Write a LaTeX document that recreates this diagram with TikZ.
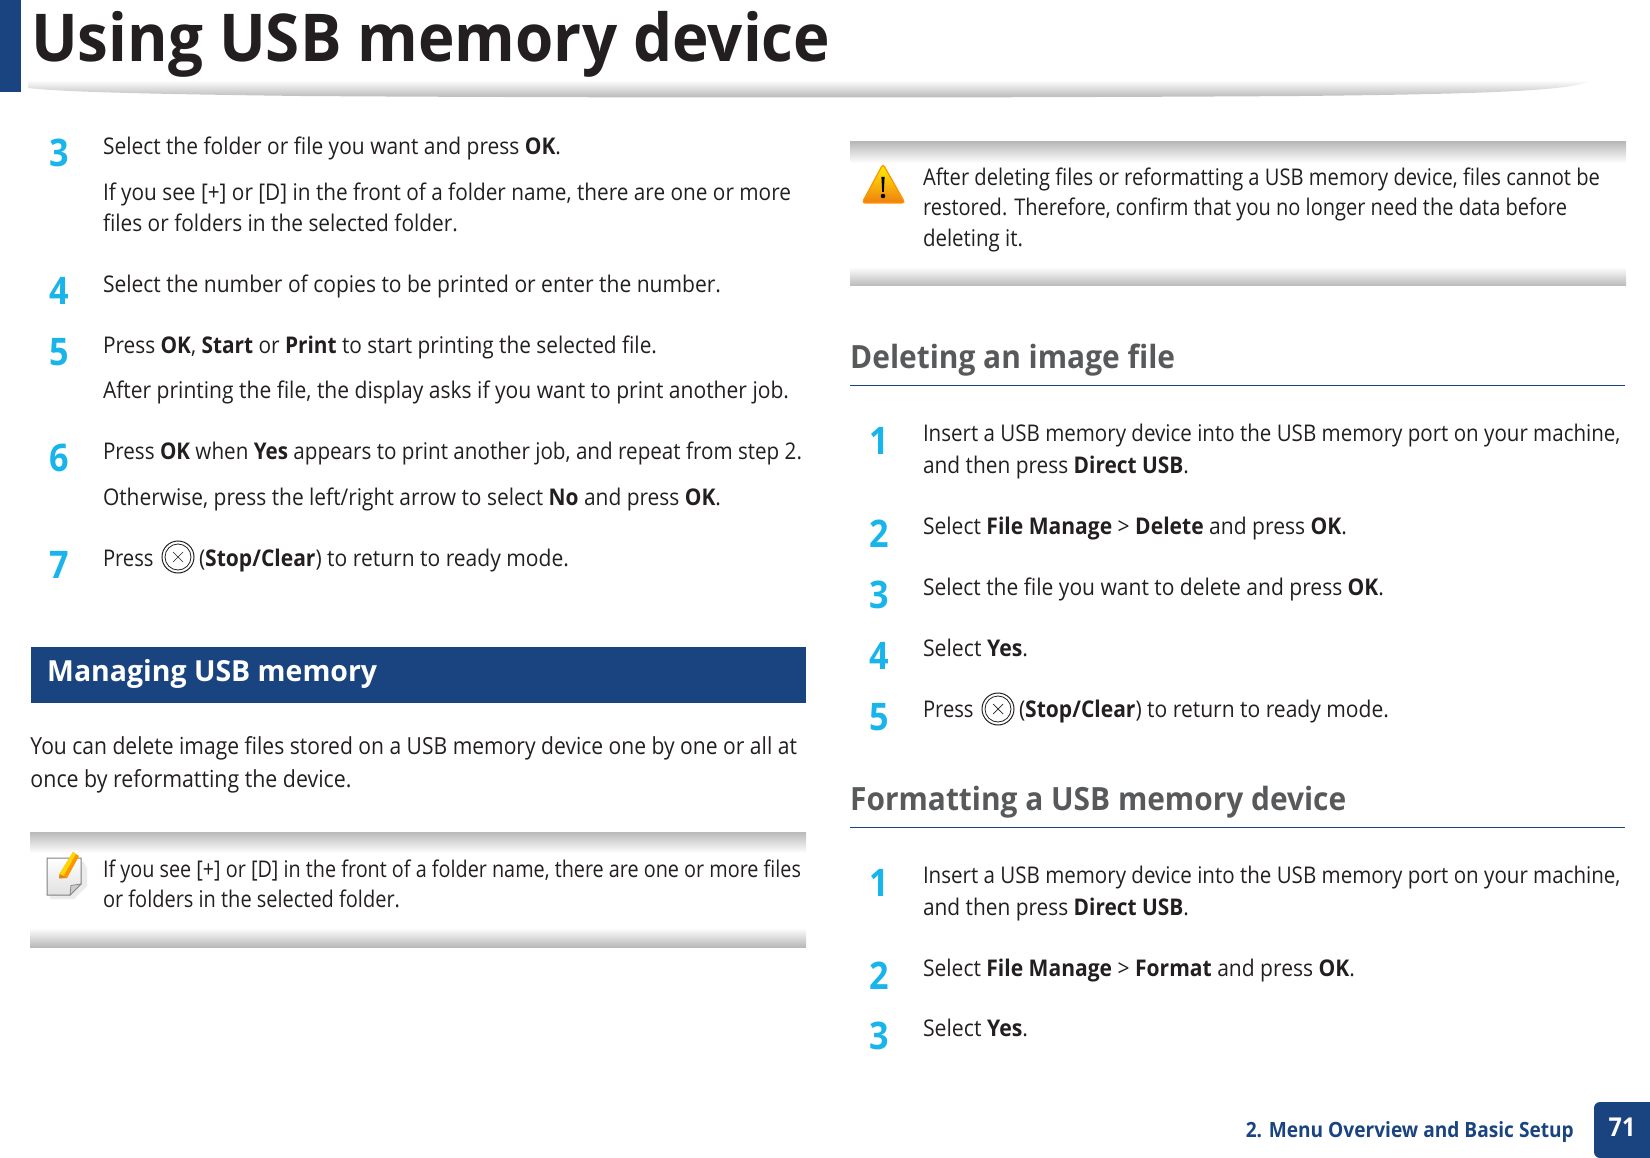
\documentclass[tikz,border=0pt]{standalone}
\usepackage{graphicx}
\usepackage{fontspec}
\setmainfont{Open Sans}[FakeStretch=0.9]
\usetikzlibrary{calc}
\definecolor{navy}{HTML}{1A4480}
\definecolor{ink}{HTML}{231F20}
\definecolor{cyanstep}{HTML}{18B4EA}
\definecolor{headgray}{HTML}{58595B}
\definecolor{bandgray}{HTML}{B9B9B9}
\newsavebox{\fitbox}
\newcommand{\fit}[2]{\sbox{\fitbox}{#2}\pgfmathsetmacro{\fitr}{(#1)/\the\wd\fitbox}\scalebox{\fitr}[1]{\usebox{\fitbox}}}
\tikzset{
  x=1pt,y=-1pt,
  txt/.style={anchor=base west,inner sep=0pt,outer sep=0pt,text=ink,font=\fontsize{23}{28}\selectfont},
  para/.style={txt,font=\fontsize{23.5}{28}\selectfont},
  stepnum/.style={anchor=base,inner sep=0pt,text=cyanstep,font=\fontsize{38}{40}\selectfont\bfseries},
  headtxt/.style={anchor=base west,inner sep=0pt,text=headgray,font=\fontsize{32}{36}\selectfont\bfseries},
  rulel/.style={navy,line width=1pt},
}
% name, x, baseline, right end, text
\newcommand{\tl}[5]{\node[txt] (#1) at (#2,#3) {\fit{#4-#2}{#5}};}
\newcommand{\sn}[4]{\node[stepnum] (#1) at (#2,#3) {#4};}
\newcommand{\stopicon}[3]{%
  \node[circle,draw=ink,line width=1pt,minimum size=32pt,inner sep=0pt] (#1) at (#2,#3) {};
  \node[circle,draw=ink,line width=.8pt,minimum size=26pt,inner sep=0pt] at (#2,#3) {};
  \draw[ink,line width=.7pt] ($(#2,#3)+(-5,-5)$) -- ($(#2,#3)+(5,5)$) ($(#2,#3)+(-5,5)$) -- ($(#2,#3)+(5,-5)$);}
\newcommand{\bandtop}[3]{\shade[top color=bandgray,bottom color=white] (#1,#2) rectangle (#3,#2+21);}
\newcommand{\bandbot}[3]{\shade[top color=white,bottom color=bandgray] (#1,#2) rectangle (#3,#2+19);}
\begin{document}
\begin{tikzpicture}
\useasboundingbox (0,0) rectangle (1650,1158);
% header
\fill[navy] (0,0) rectangle (21,92);
\shade[top color=white,middle color=black!6,bottom color=black!28] (28,80) -- (1590,80) .. controls (1580,90) and (1500,94) .. (1300,96) .. controls (1000,98) and (600,98) .. (300,96) .. controls (150,94) and (60,92) .. (28,88) -- cycle;
\node[anchor=base west,inner sep=0pt,text=ink,font=\fontsize{66}{68}\selectfont\bfseries] (title) at (31,62) {\fit{799}{Using USB memory device}};
% left column
\sn{n3}{59}{167}{3}
\tl{a1}{103}{155}{561}{Select the folder or file you want and press \textbf{OK}.}
\tl{a2}{103}{201}{791}{If you see [+] or [D] in the front of a folder name, there are one or more}
\tl{a3}{103}{232}{458}{files or folders in the selected folder.}
\sn{n4}{59}{305}{4}
\tl{a4}{103}{293}{721}{Select the number of copies to be printed or enter the number.}
\sn{n5}{59}{366}{5}
\tl{a5}{103}{354}{657}{Press \textbf{OK}, \textbf{Start} or \textbf{Print} to start printing the selected file.}
\tl{a6}{103}{399}{789}{After printing the file, the display asks if you want to print another job.}
\sn{n6}{59}{471}{6}
\tl{a7}{103}{459}{802}{Press \textbf{OK} when \textbf{Yes} appears to print another job, and repeat from step 2.}
\tl{a8}{103}{505}{721}{Otherwise, press the left/right arrow to select \textbf{No} and press \textbf{OK}.}
\sn{n7}{59}{578}{7}
\tl{a9}{103}{566}{153.6}{Press}
\stopicon{s1}{178}{557}
\tl{a10}{199}{566}{569}{(\textbf{Stop/Clear}) to return to ready mode.}
% section bar
\fill[navy] (30.5,647) rectangle (806,703);
\node[anchor=base west,inner sep=0pt,text=white,font=\fontsize{29}{32}\selectfont\bfseries] (sec) at (47,681) {\fit{330}{Managing USB memory}};
\node[para] (p1) at (30.5,754) {\fit{766.5}{You can delete image files stored on a USB memory device one by one or all at}};
\node[para] (p2) at (30.5,787) {\fit{321}{once by reformatting the device.}};
% note box
\bandtop{30}{832}{806}
\bandbot{30}{928}{806}
\begin{scope}
  \fill[black!8] (84,862) -- (87,868) -- (87,886) -- (74,899) -- (50,899) -- (50,890) -- (78,862) -- cycle;
  \shade[draw=black!50,line width=1pt,top color=white,bottom color=black!12] (47,858) -- (81,858) -- (81,884) -- (70,895) -- (47,895) -- cycle;
  \fill[black!20,draw=black!50,line width=.7pt] (81,884) -- (71,885.5) -- (70,895) -- cycle;
  \fill[orange!85!yellow] (73,852) -- (79,856) -- (67,878) -- (59.5,874) -- cycle;
  \fill[yellow!75!orange] (73,852) -- (76,854) -- (63.5,876) -- (59.5,874) -- cycle;
  \fill[orange!60!brown] (59.5,874) -- (67,878) -- (59,878.5) -- cycle;
\end{scope}
\tl{n1}{103}{877}{801}{If you see [+] or [D] in the front of a folder name, there are one or more files}
\tl{n2}{103}{907}{400}{or folders in the selected folder.}
% warning box
\bandtop{850}{142}{1626}
\bandbot{850}{267}{1626}
\shade[top color=yellow!90!orange,bottom color=orange!75!brown,draw=orange!85!yellow,line width=1.2pt,rounded corners=3pt] (883,164) -- (905,203) -- (862,203) -- cycle;
\fill[black] (881.4,177) -- (884.6,177) -- (883.8,192) -- (882.2,192) -- cycle;
\fill[black] (883,196) circle (2.3);
\tl{w1}{923}{186}{1600}{After deleting files or reformatting a USB memory device, files cannot be}
\tl{w2}{923}{216}{1567}{restored. Therefore, confirm that you no longer need the data before}
\tl{w3}{923}{247}{1023}{deleting it.}
% deleting
\node[headtxt] (h1) at (850,369) {\fit{325}{Deleting an image file}};
\draw[rulel] (850,386) -- (1625,386);
\sn{d1n}{879}{454}{1}
\tl{d1}{923}{441}{1620.5}{Insert a USB memory device into the USB memory port on your machine,}
\tl{d1b}{923}{473}{1189}{and then press \textbf{Direct USB}.}
\sn{d2n}{879}{547}{2}
\tl{d2}{923}{534}{1347}{Select \textbf{File Manage} > \textbf{Delete} and press \textbf{OK}.}
\sn{d3n}{879}{608}{3}
\tl{d3}{923}{595}{1384}{Select the file you want to delete and press \textbf{OK}.}
\sn{d4n}{879}{669}{4}
\tl{d4}{923}{656}{1028}{Select \textbf{Yes}.}
\sn{d5n}{879}{730}{5}
\tl{d5}{923}{717}{973.6}{Press}
\stopicon{s2}{998}{709}
\tl{d5b}{1019}{717}{1389}{(\textbf{Stop/Clear}) to return to ready mode.}
% formatting
\node[headtxt] (h2) at (850,810) {\fit{496}{Formatting a USB memory device}};
\draw[rulel] (850,827) -- (1625,827);
\sn{f1n}{879}{896}{1}
\tl{f1}{923}{883}{1620.5}{Insert a USB memory device into the USB memory port on your machine,}
\tl{f1b}{923}{915}{1189}{and then press \textbf{Direct USB}.}
\sn{f2n}{879}{989}{2}
\tl{f2}{923}{976}{1355}{Select \textbf{File Manage} > \textbf{Format} and press \textbf{OK}.}
\sn{f3n}{879}{1049}{3}
\tl{f3}{923}{1036}{1028}{Select \textbf{Yes}.}
% footer
\node[anchor=base east,inner sep=0pt,text=navy,font=\fontsize{21}{24}\selectfont\bfseries] (foot) at (1574,1137) {\fit{328}{2. Menu Overview and Basic Setup}};
\fill[navy,rounded corners=6pt] (1650,1102) -- (1594,1102) -- (1594,1158) -- (1650,1158);
\node[anchor=base,inner sep=0pt,text=white,font=\fontsize{26}{28}\selectfont\bfseries] (pg) at (1622,1136) {71};
\end{tikzpicture}
\end{document}
